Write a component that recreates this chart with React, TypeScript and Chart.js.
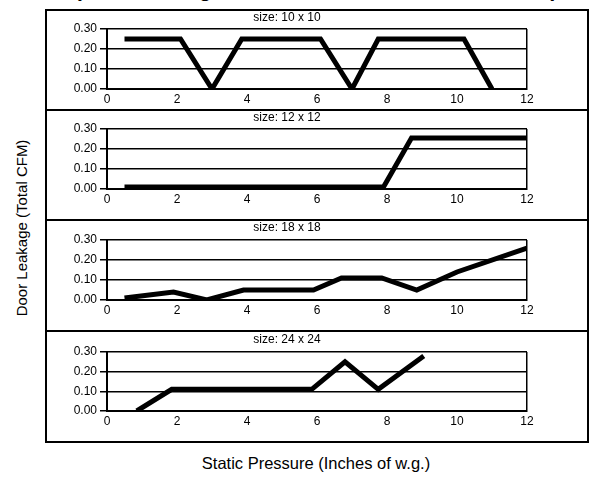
import React, { useEffect, useRef } from "react";
import { Chart, registerables } from "chart.js";

Chart.register(...registerables);

const chartTitle = "(Door Leakage vs. Static Pressure for All Sizes)";
const yAxisTitle = "Door Leakage (Total CFM)";
const xAxisTitle = "Static Pressure (Inches of w.g.)";
const sizeLabels = ["size: 10 x 10", "size: 12 x 12", "size: 18 x 18", "size: 24 x 24"];

const pressure10 = [0.5, 2.1, 3, 3.85, 6.1, 7, 7.75, 10.2, 11];
const leakage10 = [0.25, 0.25, 0, 0.25, 0.25, 0, 0.25, 0.25, 0];
const pressure12 = [0.5, 7.9, 8.7, 12];
const leakage12 = [0.01, 0.01, 0.255, 0.255];
const pressure18 = [0.5, 1.9, 2.85, 3.9, 5.9, 6.7, 7.85, 8.85, 10, 12];
const leakage18 = [0.01, 0.04, 0, 0.05, 0.05, 0.11, 0.11, 0.05, 0.14, 0.26];
const pressure24 = [0.85, 1.85, 5.85, 6.8, 7.75, 9.05];
const leakage24 = [0, 0.11, 0.11, 0.25, 0.11, 0.28];

const xMin = 0;
const xMax = 12;
const xStep = 2;
const yMin = 0;
const yMax = 0.3;
const yStep = 0.1;

const seriesX = [pressure10, pressure12, pressure18, pressure24];
const seriesY = [leakage10, leakage12, leakage18, leakage24];

const FONT = "Arial, 'Liberation Sans', sans-serif";

// layout of each panel (top, height, title pad bottom, chart bottom pad)
const panelLayout = [
  { top: 10, height: 100, titleGap: 4.6, bottomPad: 0.6 },
  { top: 110, height: 110, titleGap: 4.6, bottomPad: 10.6 },
  { top: 220, height: 112, titleGap: 5.6, bottomPad: 11.6 },
  { top: 332, height: 111, titleGap: 5.6, bottomPad: 11.6 },
];

const CANVAS_LEFT = 47;
const CANVAS_WIDTH = 540;

function Panel({ index }: { index: number }) {
  const ref = useRef<HTMLCanvasElement | null>(null);
  const lay = panelLayout[index];
  useEffect(() => {
    if (!ref.current) return;
    const data = seriesX[index].map((x, i) => ({ x, y: seriesY[index][i] }));
    const chart = new Chart(ref.current, {
      type: "line",
      data: {
        datasets: [
          {
            data,
            borderColor: "#000",
            borderWidth: 5,
            pointRadius: 0,
            tension: 0,
            fill: false,
            borderCapStyle: "butt",
            borderJoinStyle: "miter",
          },
        ],
      },
      options: {
        animation: false,
        responsive: false,
        maintainAspectRatio: false,
        layout: { padding: { left: 0, right: 60, top: 0, bottom: lay.bottomPad } },
        plugins: {
          legend: { display: false },
          tooltip: { enabled: false },
          title: {
            display: true,
            text: sizeLabels[index],
            color: "#000",
            font: { family: FONT, size: 12, weight: "normal" },
            padding: { top: 0, bottom: lay.titleGap },
          },
        },
        scales: {
          x: {
            type: "linear",
            min: xMin,
            max: xMax,
            ticks: { stepSize: xStep, color: "#000", font: { family: FONT, size: 12 }, padding: 3, maxRotation: 0 },
            grid: {
              drawTicks: false,
              lineWidth: 1.5,
              color: (c: any) => (c.tick && c.tick.value === xMax ? "#000" : "rgba(0,0,0,0)"),
            },
            border: { display: true, color: "#000", width: 2 },
          },
          y: {
            min: yMin,
            max: yMax,
            ticks: {
              stepSize: yStep,
              color: "#000",
              font: { family: FONT, size: 12 },
              padding: 3,
              callback: (v: any) => Number(v).toFixed(2),
            },
            grid: { color: "#000", lineWidth: 1.5, tickLength: 7, drawTicks: true },
            border: { display: true, color: "#000", width: 2 },
            afterFit: (s: any) => {
              s.width = 60;
            },
          },
        },
      },
    } as any);
    return () => chart.destroy();
  }, [index]);
  return (
    <canvas
      ref={ref}
      width={CANVAS_WIDTH}
      height={lay.height}
      style={{ position: "absolute", left: CANVAS_LEFT, top: lay.top, width: CANVAS_WIDTH, height: lay.height, display: "block" }}
    />
  );
}

export default function App() {
  return (
    <div
      style={{
        position: "fixed",
        left: 0,
        top: 0,
        width: 591,
        height: 479,
        background: "#fff",
        overflow: "hidden",
        fontFamily: FONT,
        color: "#000",
      }}
    >
      <div
        style={{
          position: "absolute",
          left: 316,
          top: -21.5,
          transform: "translateX(-50%)",
          fontSize: 21.5,
          lineHeight: 1,
          fontWeight: "bold",
          whiteSpace: "nowrap",
        }}
      >
        {chartTitle}
      </div>
      {panelLayout.map((_, i) => (
        <Panel key={i} index={i} />
      ))}
      <div
        style={{
          position: "absolute",
          left: 45,
          top: 9,
          width: 544,
          height: 434,
          border: "2px solid #000",
          boxSizing: "border-box",
          pointerEvents: "none",
        }}
      />
      {[110, 220, 331].map((y) => (
        <div
          key={y}
          style={{ position: "absolute", left: 45, top: y - 1, width: 544, height: 2, background: "#000" }}
        />
      ))}
      <div
        style={{
          position: "absolute",
          left: 21,
          top: 228,
          transform: "translate(-50%, -50%) rotate(-90deg)",
          fontSize: 15,
          whiteSpace: "nowrap",
        }}
      >
        {yAxisTitle}
      </div>
      <div
        style={{
          position: "absolute",
          left: 316,
          top: 463,
          transform: "translate(-50%, -50%)",
          fontSize: 16.5,
          whiteSpace: "nowrap",
        }}
      >
        {xAxisTitle}
      </div>
    </div>
  );
}
